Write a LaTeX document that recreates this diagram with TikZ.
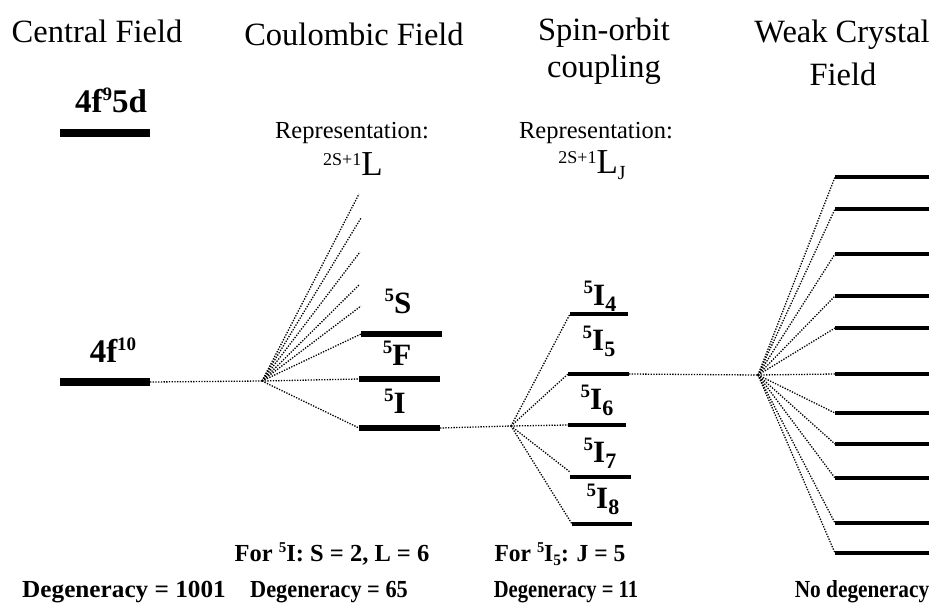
\documentclass[tikz,border=0pt]{standalone}
\usepackage{fontspec}
\setmainfont{Liberation Serif}
\newcommand\upn[1]{\raisebox{0.36em}{\fontsize{19}{19}\selectfont #1}}
\newcommand\dnn[1]{\raisebox{-0.2em}{\fontsize{22}{22}\selectfont #1}}
\newcommand\fupn[1]{\raisebox{0.36em}{\fontsize{15}{15}\selectfont #1}}
\newcommand\fdnn[1]{\raisebox{-0.18em}{\fontsize{16}{16}\selectfont #1}}
\begin{document}
\begin{tikzpicture}[x=1pt,y=-1pt,
  dots/.style={line width=1.3pt, dash pattern=on 1.3pt off 1.4pt},
  barA/.style={line width=7.5pt},
  barB/.style={line width=5.5pt},
  barC/.style={line width=3.8pt},
  barD/.style={line width=3.6pt},
  head/.style={font=\fontsize{32.5}{36}\selectfont, anchor=base, inner sep=0},
  rep/.style={font=\fontsize{24.5}{28}\selectfont, anchor=base, inner sep=0},
  lab/.style={font=\bfseries\fontsize{31}{32}\selectfont, anchor=base, inner sep=0},
  foot/.style={font=\bfseries\fontsize{24.5}{28}\selectfont, anchor=base, inner sep=0},
]
\useasboundingbox (0,0) rectangle (934,603);

% headers
\node[head] (h1) at (97,42) {Central Field};
\node[head] (h2) at (354,45) {Coulombic Field};
\node[head] (h3a) at (604,40) {Spin-orbit};
\node[head] (h3b) at (604,77) {coupling};
\node[head] (h4a) at (842,42) {Weak Crystal};
\node[head] (h4b) at (843,85) {Field};

% representations
\node[rep] (r1) at (352,138) {Representation:};
\node[rep] (r1b) at (353,175) {\raisebox{10pt}{\fontsize{18}{18}\selectfont 2S+1}{\fontsize{35}{36}\selectfont L}};
\node[rep] (r2) at (596,138) {Representation:};
\node[rep] (r2b) at (592,173) {\raisebox{10pt}{\fontsize{18}{18}\selectfont 2S+1}{\fontsize{35}{36}\selectfont L}\raisebox{-6pt}{\fontsize{20}{20}\selectfont J}};

% central field
\coordinate (c5dL) at (60,133);
\coordinate (c5dR) at (150,133);
\draw[barA] (c5dL) -- (c5dR);
\node[lab, font=\bfseries\fontsize{33}{34}\selectfont] (l5d) at (111,112) {4f\upn{9}5d};

\coordinate (c10L) at (60,382);
\coordinate (c10R) at (150,382);
\draw[barA] (c10L) -- (c10R);
\node[lab, font=\bfseries\fontsize{33}{34}\selectfont] (l10) at (113,362) {4f\upn{10}};

% coulombic fan
\coordinate (f1) at (262,381);
\draw[dots] (c10R) -- (f1);
\coordinate (u1) at (359,194);
\coordinate (u2) at (361,218);
\coordinate (u3) at (360,252);
\coordinate (u4) at (359,285);
\coordinate (u5) at (361,306);
\foreach \p in {u1,u2,u3,u4,u5} \draw[dots] (f1) -- (\p);

\coordinate (sL) at (361,334); \coordinate (sR) at (442,334);
\coordinate (fL) at (359,379); \coordinate (fR) at (440,379);
\coordinate (iL) at (359,428); \coordinate (iR) at (440,428);
\draw[barB] (sL) -- (sR);
\draw[barB] (fL) -- (fR);
\draw[barB] (iL) -- (iR);
\draw[dots] (f1) -- (sL);
\draw[dots] (f1) -- (fL);
\draw[dots] (f1) -- (iL);
\node[lab] (lS) at (398,313) {\upn{5}S};
\node[lab] (lF) at (397,365) {\upn{5}F};
\node[lab] (lI) at (395,413) {\upn{5}I};

% spin-orbit fan
\coordinate (f2) at (511,426);
\draw[dots] (iR) -- (f2);
\coordinate (j4L) at (570,314); \coordinate (j4R) at (628,314);
\coordinate (j5L) at (568,374); \coordinate (j5R) at (629,374);
\coordinate (j6L) at (568,425); \coordinate (j6R) at (626,425);
\coordinate (j7L) at (570,477); \coordinate (j7R) at (631,477);
\coordinate (j8L) at (572,524); \coordinate (j8R) at (632,524);
\foreach \a/\b in {j4L/j4R,j5L/j5R,j6L/j6R,j7L/j7R,j8L/j8R} \draw[barC] (\a) -- (\b);
\draw[dots] (f2) -- (j4L);
\draw[dots] (f2) -- (j5L);
\draw[dots] (f2) -- (j6L);
\draw[dots] (f2) -- ([yshift=5pt]j7L);
\draw[dots] (f2) -- (j8L);
\node[lab] (lj4) at (600,305) {\upn{5}I\dnn{4}};
\node[lab] (lj5) at (599,350) {\upn{5}I\dnn{5}};
\node[lab] (lj6) at (597,409) {\upn{5}I\dnn{6}};
\node[lab] (lj7) at (600,462) {\upn{5}I\dnn{7}};
\node[lab] (lj8) at (603,508) {\upn{5}I\dnn{8}};

% weak crystal field fan
\coordinate (f3) at (758,375);
\draw[dots] (j5R) -- (f3);
\foreach \y [count=\i] in {177,209,254,296,328,374,413,444,478,523,553} {
  \coordinate (kL\i) at (835,\y);
  \coordinate (kR\i) at (929,\y);
  \draw[barD] (kL\i) -- (kR\i);
  \draw[dots] (f3) -- (kL\i);
}

% footer
\node[foot] (d1) at (124,597) {\scalebox{1.03}[1]{Degeneracy = 1001}};
\node[foot] (s2) at (332,561) {For \fupn{5}I: S = 2, L = 6};
\node[foot] (d2) at (329,597) {\scalebox{0.91}[1]{Degeneracy = 65}};
\node[foot] (s3) at (560,561) {\scalebox{0.96}[1]{For \fupn{5}I\fdnn{5}: J = 5}};
\node[foot] (d3) at (566,597) {\scalebox{0.84}[1]{Degeneracy = 11}};
\node[foot] (d4) at (862,597) {\scalebox{0.87}[1]{No degeneracy}};
\end{tikzpicture}
\end{document}
